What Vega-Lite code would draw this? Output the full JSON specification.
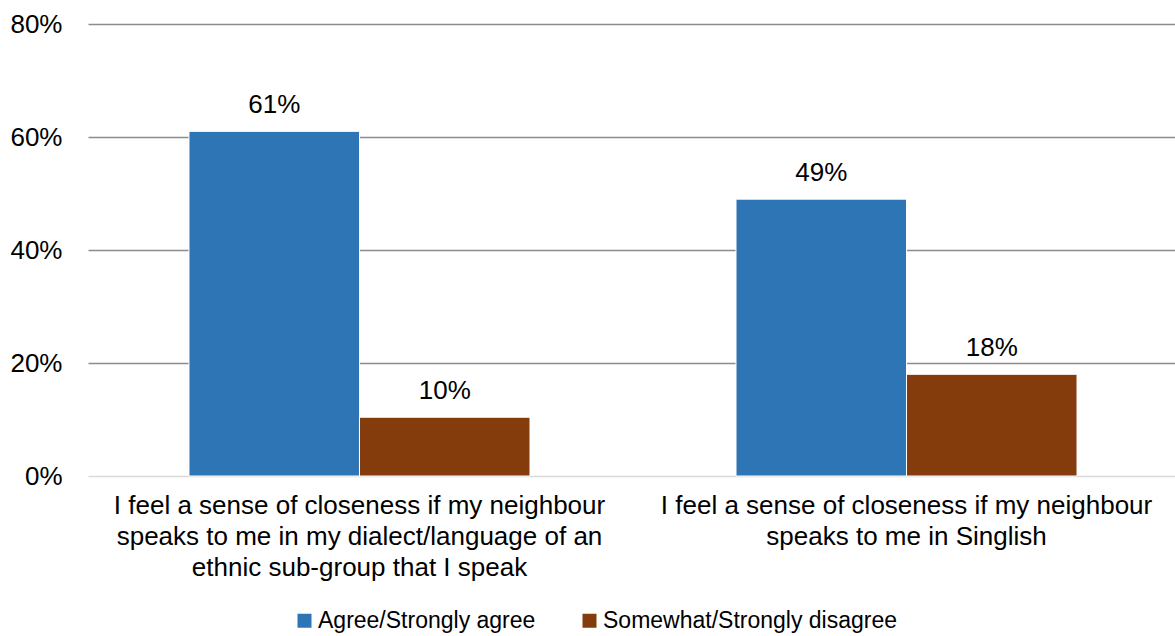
{
  "$schema": "https://vega.github.io/schema/vega-lite/v6.json",
  "width": 1090,
  "height": 452,
  "autosize": {"type": "none"},
  "padding": {"left": 88, "top": 24, "right": 0, "bottom": 160},
  "background": "white",
  "config": {
    "font": "Liberation Sans",
    "view": {"stroke": null}
  },
  "data": {
    "values": [
      {"statement": "I feel a sense of closeness if my neighbour speaks to me in my dialect/language of an ethnic sub-group that I speak", "response": "Agree/Strongly agree", "share": 0.61},
      {"statement": "I feel a sense of closeness if my neighbour speaks to me in my dialect/language of an ethnic sub-group that I speak", "response": "Somewhat/Strongly disagree", "share": 0.104},
      {"statement": "I feel a sense of closeness if my neighbour speaks to me in Singlish", "response": "Agree/Strongly agree", "share": 0.49},
      {"statement": "I feel a sense of closeness if my neighbour speaks to me in Singlish", "response": "Somewhat/Strongly disagree", "share": 0.18}
    ]
  },
  "encoding": {
    "x": {
      "field": "statement",
      "type": "nominal",
      "sort": null,
      "title": null,
      "scale": {"paddingInner": 0.3766, "paddingOuter": 0.1846},
      "axis": {
        "labelAngle": 0,
        "labelFontSize": 26,
        "labelColor": "#000000",
        "labelPadding": 16,
        "labelLineHeight": 31,
        "labelLimit": 0,
        "ticks": false,
        "domain": false,
        "labelExpr": "indexof(datum.value, 'Singlish') >= 0 ? ['I feel a sense of closeness if my neighbour', 'speaks to me in Singlish'] : ['I feel a sense of closeness if my neighbour', 'speaks to me in my dialect/language of an', 'ethnic sub-group that I speak']"
      }
    },
    "xOffset": {"field": "response", "type": "nominal", "sort": null, "scale": {"paddingInner": 0, "paddingOuter": 0}},
    "y": {
      "field": "share",
      "type": "quantitative",
      "title": null,
      "scale": {"domain": [0, 0.8]},
      "axis": {
        "values": [0, 0.2, 0.4, 0.6, 0.8],
        "format": ".0%",
        "labelFontSize": 26,
        "labelColor": "#000000",
        "labelPadding": 26,
        "ticks": false,
        "domain": false,
        "gridColor": {"condition": {"test": "datum.value === 0", "value": "#d9d9d9"}, "value": "#8c8c8c"},
        "gridWidth": 1.5
      }
    }
  },
  "layer": [
    {
      "mark": {"type": "bar", "stroke": "white", "strokeWidth": 1},
      "encoding": {
        "color": {
          "field": "response",
          "type": "nominal",
          "sort": null,
          "scale": {"domain": ["Agree/Strongly agree", "Somewhat/Strongly disagree"], "range": ["#2E75B6", "#843C0C"]},
          "legend": {
            "title": null,
            "orient": "none",
            "legendX": 205,
            "legendY": 585,
            "direction": "horizontal",
            "symbolType": "square",
            "symbolSize": 196,
            "symbolStrokeWidth": 0,
            "labelFontSize": 23,
            "labelColor": "#000000",
            "labelOffset": 2,
            "columnPadding": 42,
            "labelLimit": 0
          }
        }
      }
    },
    {
      "mark": {"type": "text", "fontSize": 26, "color": "#000000", "baseline": "middle", "dy": -26},
      "encoding": {
        "text": {"field": "share", "type": "quantitative", "format": ".0%"}
      }
    }
  ]
}
